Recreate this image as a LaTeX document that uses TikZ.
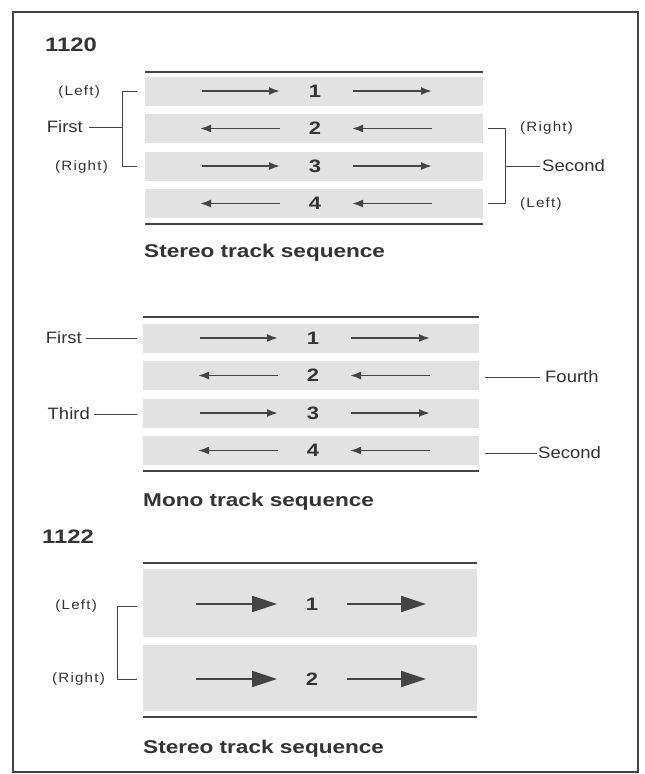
\documentclass[tikz,border=0pt]{standalone}
\usepackage{fontspec}
\usetikzlibrary{arrows.meta}
\newfontfamily\hvl[FakeStretch=1.12]{Liberation Sans}
\newfontfamily\hvp[FakeStretch=1.12,LetterSpace=9]{Liberation Sans}
\newfontfamily\hvb[FakeStretch=1.22]{Liberation Sans}
\definecolor{ink}{HTML}{333333}
\definecolor{ln}{HTML}{444444}
\definecolor{rowc}{HTML}{E2E2E2}
\begin{document}
\begin{tikzpicture}[x=1pt,y=-1pt,
  frame/.style={draw=ln,line width=2.4pt},
  tape/.style={draw=ln,line width=2pt},
  thin/.style={draw=ln,line width=1pt},
  lbl/.style={font=\hvl\fontsize{16.5}{18}\selectfont,text=ink,inner sep=0pt},
  plbl/.style={font=\hvp\fontsize{13.5}{15}\selectfont,text=ink,inner sep=0pt},
  ttl/.style={font=\hvb\bfseries\fontsize{19.5}{22}\selectfont,text=ink,inner sep=0pt,anchor=west},
  capt/.style={font=\hvb\bfseries\fontsize{18.5}{21}\selectfont,text=ink,inner sep=0pt,anchor=west},
  num/.style={font=\hvb\bfseries\fontsize{18}{20}\selectfont,text=ink,inner sep=0pt},
  arr/.style={draw=ln,line width=1.8pt,-{Latex[length=11pt,width=8pt]}},
  bigarr/.style={draw=ln,line width=2.2pt,-{Triangle[length=25pt,width=16pt]}}
]
\useasboundingbox (0,0) rectangle (645,774);
\fill[white] (0,0) rectangle (645,774);
\draw[frame] (13,12) rectangle (638,772);

% ---------------- 1120 stereo ----------------
\node[ttl] (t1120) at (45,45) {1120};
\foreach \yy in {91,128.5,166,203.5} \fill[rowc] (145,\yy-14.5) rectangle (483,\yy+14.5);
\draw[tape] (145,72) -- (483,72);
\draw[tape] (145,223.5) -- (483,223.5);
\node[num] (a1) at (315,91) {1};
\node[num] (a2) at (315,128.5) {2};
\node[num] (a3) at (315,166) {3};
\node[num] (a4) at (315,203.5) {4};
\foreach \n in {a1,a3}{
  \draw[arr] ([xshift=-113pt]\n.center) -- ([xshift=-35pt]\n.center);
  \draw[arr] ([xshift=38pt]\n.center) -- ([xshift=117pt]\n.center);}
\foreach \n in {a2,a4}{
  \draw[arr] ([xshift=-35pt]\n.center) -- ([xshift=-115pt]\n.center);
  \draw[arr] ([xshift=117pt]\n.center) -- ([xshift=37pt]\n.center);}
\node[plbl,anchor=east] (aL) at (100,92) {(Left)};
\node[lbl,anchor=east] (aF) at (83,127) {First};
\node[plbl,anchor=east] (aR) at (108,167) {(Right)};
\coordinate (abx) at (122,0);
\coordinate (aB1) at (137,91);
\coordinate (aB3) at (137,166);
\draw[thin] (aB1) -- (aB1 -| abx) -- (aB3 -| abx) -- (aB3);
\draw[thin] ([xshift=6pt]aF.east) -- (aF.east -| abx);
\node[plbl,anchor=west] (bR) at (520,128.5) {(Right)};
\node[lbl,anchor=west] (bS) at (542,166) {Second};
\node[plbl,anchor=west] (bL) at (520,204) {(Left)};
\coordinate (bbx) at (505,0);
\coordinate (bB2) at (488,128.5);
\coordinate (bB4) at (488,203.5);
\draw[thin] (bB2) -- (bB2 -| bbx) -- (bB4 -| bbx) -- (bB4);
\draw[thin] (bS.west -| bbx) -- ([xshift=-2pt]bS.west);
\node[capt] (c1) at (144,253) {Stereo track sequence};

% ---------------- mono ----------------
\foreach \yy in {338,375.5,413,450.5} \fill[rowc] (143,\yy-14.5) rectangle (479,\yy+14.5);
\draw[tape] (143,317) -- (479,317);
\draw[tape] (143,471) -- (479,471);
\node[num] (m1) at (313,338) {1};
\node[num] (m2) at (313,375.5) {2};
\node[num] (m3) at (313,413) {3};
\node[num] (m4) at (313,450.5) {4};
\foreach \n in {m1,m3}{
  \draw[arr] ([xshift=-113pt]\n.center) -- ([xshift=-35pt]\n.center);
  \draw[arr] ([xshift=38pt]\n.center) -- ([xshift=117pt]\n.center);}
\foreach \n in {m2,m4}{
  \draw[arr] ([xshift=-35pt]\n.center) -- ([xshift=-115pt]\n.center);
  \draw[arr] ([xshift=117pt]\n.center) -- ([xshift=37pt]\n.center);}
\node[lbl,anchor=east] (mF) at (82,338) {First};
\node[lbl,anchor=east] (mT) at (90,414) {Third};
\node[lbl,anchor=west] (mFo) at (545,377) {Fourth};
\node[lbl,anchor=west] (mS) at (538,453) {Second};
\coordinate (mlx) at (137,0);
\coordinate (mrx) at (485,0);
\draw[thin] ([xshift=4pt]mF.east) -- (mF.east -| mlx);
\draw[thin] ([xshift=4pt]mT.east) -- (mT.east -| mlx);
\draw[thin] (mFo.west -| mrx) -- ([xshift=-5pt]mFo.west);
\draw[thin] (mS.west -| mrx) -- ([xshift=-1pt]mS.west);
\node[capt] (c2) at (143,502) {Mono track sequence};

% ---------------- 1122 stereo ----------------
\node[ttl] (t1122) at (42,537) {1122};
\fill[rowc] (143,569) rectangle (477,637);
\fill[rowc] (143,645) rectangle (477,711);
\draw[tape] (143,563) -- (477,563);
\draw[tape] (143,717) -- (477,717);
\node[num] (s1) at (312,604) {1};
\node[num] (s2) at (312,679) {2};
\foreach \n in {s1,s2}{
  \draw[bigarr] ([xshift=-116pt]\n.center) -- ([xshift=-35pt]\n.center);
  \draw[bigarr] ([xshift=35pt]\n.center) -- ([xshift=114pt]\n.center);}
\node[plbl,anchor=east] (sL) at (97,606) {(Left)};
\node[plbl,anchor=east] (sR) at (105,679) {(Right)};
\coordinate (sbx) at (117,0);
\coordinate (sB1) at (137,606);
\coordinate (sB2) at (137,679);
\draw[thin] (sB1) -- (sB1 -| sbx) -- (sB2 -| sbx) -- (sB2);
\node[capt] (c3) at (143,749) {Stereo track sequence};
\end{tikzpicture}
\end{document}
